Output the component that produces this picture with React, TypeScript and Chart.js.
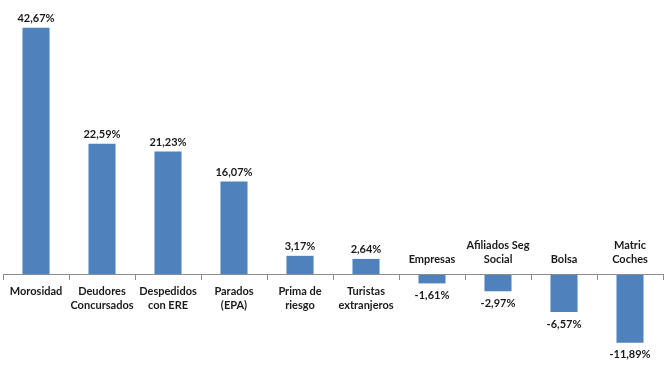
import React, { useEffect, useRef } from "react";
import { Chart, registerables } from "chart.js";

Chart.register(...registerables);

const categories: string[][] = [
  ["Morosidad"],
  ["Deudores", "Concursados"],
  ["Despedidos", "con ERE"],
  ["Parados", "(EPA)"],
  ["Prima de", "riesgo"],
  ["Turistas", "extranjeros"],
  ["Empresas"],
  ["Afiliados Seg", "Social"],
  ["Bolsa"],
  ["Matric", "Coches"],
];
const values: number[] = [42.67, 22.59, 21.23, 16.07, 3.17, 2.64, -1.61, -2.97, -6.57, -11.89];
const valueLabels: string[] = values.map((v) => v.toFixed(2).replace(".", ",") + "%");

const FONT = "bold 11px Lato, 'Open Sans', sans-serif";
const TEXT = "#1a1a1a";

const labelPlugin = {
  id: "zeroAxisLabels",
  afterDatasetsDraw(chart: any) {
    const { ctx, chartArea, scales } = chart;
    const y0 = scales.y.getPixelForValue(0);
    const xs = scales.x;
    const n = categories.length;
    const left = chartArea.left;
    const right = chartArea.right;
    const step = (right - left) / n;
    ctx.save();
    ctx.strokeStyle = "#8c8c8c";
    ctx.lineWidth = 1;
    ctx.beginPath();
    ctx.moveTo(left, Math.round(y0) + 0.5);
    ctx.lineTo(right, Math.round(y0) + 0.5);
    for (let i = 0; i <= n; i++) {
      const x = Math.round(left + i * step) + 0.5;
      ctx.moveTo(x, Math.round(y0));
      ctx.lineTo(x, Math.round(y0) + 6);
    }
    ctx.stroke();
    ctx.font = FONT;
    ctx.fillStyle = TEXT;
    ctx.textAlign = "center";
    ctx.textBaseline = "middle";
    const meta = chart.getDatasetMeta(0);
    const lh = 14;
    categories.forEach((lines, i) => {
      const x = xs.getPixelForValue(i);
      const v = values[i];
      if (v >= 0) {
        lines.forEach((t, k) => ctx.fillText(t, x, y0 + 17 + k * lh));
      } else {
        const m = lines.length;
        lines.forEach((t, k) => ctx.fillText(t, x, y0 - 15 - (m - 1 - k) * lh));
      }
      const bar = meta.data[i];
      if (v >= 0) {
        ctx.fillText(valueLabels[i], x, bar.y - 9);
      } else {
        ctx.fillText(valueLabels[i], x, bar.y + 12);
      }
    });
    ctx.restore();
  },
};

export default function App() {
  const ref = useRef<HTMLCanvasElement>(null);
  useEffect(() => {
    document.body.style.margin = "0";
    const chart = new Chart(ref.current!, {
      type: "bar",
      data: {
        labels: categories.map((c) => c.join(" ")),
        datasets: [
          {
            data: values,
            backgroundColor: "#4f81bd",
            barPercentage: 0.41,
            categoryPercentage: 1,
          },
        ],
      },
      options: {
        responsive: false,
        animation: false,
        layout: { padding: { left: 3, right: 5, top: 0, bottom: 0 } },
        plugins: { legend: { display: false }, tooltip: { enabled: false } },
        scales: {
          x: { display: false, offset: true },
          y: { display: false, min: -18.0, max: 47.5 },
        },
      },
      plugins: [labelPlugin],
    });
    return () => chart.destroy();
  }, []);
  return <canvas ref={ref} width={668} height={378} style={{ display: "block" }} />;
}
